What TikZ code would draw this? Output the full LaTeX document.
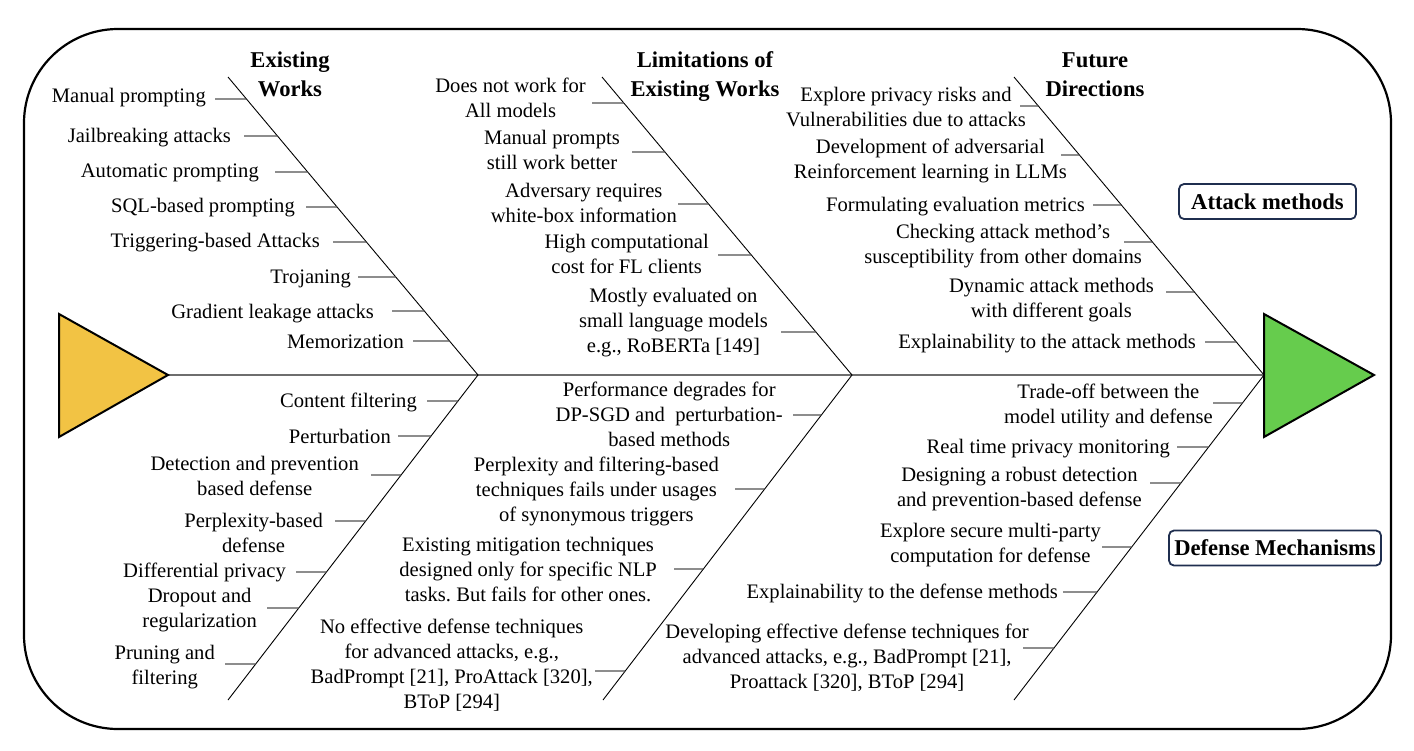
\documentclass[tikz,border=0pt]{standalone}
\usepackage{fontspec}
\setmainfont{Liberation Serif}
\usetikzlibrary{calc}
\frenchspacing
\newcommand{\lblstrut}{\rule[-6pt]{0pt}{22pt}}
\definecolor{fishyellow}{RGB}{242,195,68}
\definecolor{fishgreen}{RGB}{102,204,77}
\definecolor{boxnavy}{RGB}{31,46,79}
\definecolor{ribgray}{RGB}{80,80,80}
\definecolor{spinegray}{RGB}{110,110,110}

\begin{document}
\begin{tikzpicture}[x=1pt,y=-1pt,
  outline/.style={line width=2.2pt, rounded corners=94pt},
  spine/.style={draw=spinegray, line width=1.5pt},
  bone/.style={draw=black, line width=0.9pt},
  rib/.style={draw=ribgray, line width=1.3pt},
  head/.style={font=\fontsize{22.6}{29}\selectfont\bfseries, align=center, inner sep=0pt,
    execute at begin node=\lblstrut, execute at end node=\lblstrut},
  item/.style={font=\fontsize{20.6}{25}\selectfont, align=center, anchor=east, inner sep=0pt,
    execute at begin node=\lblstrut, execute at end node=\lblstrut},
  tag/.style={draw=boxnavy, line width=1.8pt, rounded corners=5pt,
    font=\fontsize{22.6}{27}\selectfont\bfseries, inner sep=0pt, minimum height=35pt},
  fin/.style={draw=black, line width=2pt, line join=miter}
]
\useasboundingbox (0,0) rectangle (1414,750);

% outer frame
\draw[outline] (24,29) rectangle (1391,729);

% bone end points and junctions on the spine
\coordinate (A1t) at (228,77);  \coordinate (J1) at (478,375);  \coordinate (A1b) at (228,700);
\coordinate (A2t) at (602,77);  \coordinate (J2) at (852,375);  \coordinate (A2b) at (603,700);
\coordinate (A3t) at (1014,77); \coordinate (J3) at (1264,375); \coordinate (A3b) at (1014,700);
\coordinate (Yt) at (168,375);

% spine and bones
\draw[spine] (Yt) -- (J1) -- (J2) -- (J3);
\draw[bone] (A1t) -- (J1) -- (A1b);
\draw[bone] (A2t) -- (J2) -- (A2b);
\draw[bone] (A3t) -- (J3) -- (A3b);

% ribs on the upper bones
\foreach \n/\sx/\sy in {e1/215/99, e2/244/136, e3/275/172, e4/306/207, e5/333/242, e6/358/277, e7/392/311, e8/413/341}{
  \coordinate (\n) at (\sx,\sy);
  \draw[rib] (\n) -- ($(A1t)!{(\sy-77)/298}!(J1)$);
}
\foreach \n/\sx/\sy in {l1/592/103, l2/632/152, l3/678/204, l4/718/255, l5/781/332}{
  \coordinate (\n) at (\sx,\sy);
  \draw[rib] (\n) -- ($(A2t)!{(\sy-77)/298}!(J2)$);
}
\foreach \n/\sx/\sy in {f1/1020/106, f2/1061/155, f3/1093/205, f4/1124/242, f5/1166/292, f6/1205/342}{
  \coordinate (\n) at (\sx,\sy);
  \draw[rib] (\n) -- ($(A3t)!{(\sy-77)/298}!(J3)$);
}
% ribs on the lower bones
\foreach \n/\sx/\sy in {d1/427/401, d2/398/436, d3/371/475, d4/335/521, d5/296/572, d6/267/608, d7/225/664}{
  \coordinate (\n) at (\sx,\sy);
  \draw[rib] (\n) -- ($(J1)!{(\sy-375)/325}!(A1b)$);
}
\foreach \n/\sx/\sy in {m1/793/415, m2/735/489, m3/674/569, m4/595/671}{
  \coordinate (\n) at (\sx,\sy);
  \draw[rib] (\n) -- ($(J2)!{(\sy-375)/325}!(A2b)$);
}
\foreach \n/\sx/\sy in {r1/1213/403, r2/1177/447, r3/1150/483, r4/1102/547, r5/1063/592, r6/1023/648}{
  \coordinate (\n) at (\sx,\sy);
  \draw[rib] (\n) -- ($(J3)!{(\sy-375)/325}!(A3b)$);
}

% head and tail of the fish
\draw[fin, fill=fishyellow] (59,314) -- (Yt) -- (59,437) -- cycle;
\draw[fin, fill=fishgreen] (J3 |- 0,314) -- (1374,375) -- (J3 |- 0,437) -- cycle;

% column headings
\node[head] (h1) at (290,77.5) {Existing\\Works};
\node[head] (h2) at (705,77.5) {Limitations of\\Existing Works};
\node[head] (h3) at (1095,77.5) {Future\\Directions};

% existing works: attacks
\node[item] (te1) at (206,97)  {Manual prompting};
\node[item] (te2) at (231,137) {Jailbreaking attacks};
\node[item] (te3) at (259,172) {Automatic prompting};
\node[item] (te4) at (295,207) {SQL-based prompting};
\node[item] (te5) at (320,242) {Triggering-based Attacks};
\node[item] (te6) at (351,278) {Trojaning};
\node[item] (te7) at (374,313) {Gradient leakage attacks};
\node[item] (te8) at (404,343) {Memorization};

% limitations: attacks
\node[item] (tl1) at (586,100.5) {Does not work for\\All models};
\node[item] (tl2) at (620,152.5) {Manual prompts\\still work better};
\node[item] (tl3) at (677,206)   {Adversary requires\\white-box information};
\node[item] (tl4) at (709,257)   {High computational\\cost for FL clients};
\node[item] (tl5) at (768,323)   {Mostly evaluated on\\small language models\\e.g., RoBERTa [149]};

% future directions: attacks
\node[item] (tf1) at (1026,109.5) {Explore privacy risks and\\Vulnerabilities due to attacks};
\node[item] (tf2) at (1067,161.5) {Development of adversarial\\Reinforcement learning in LLMs};
\node[item] (tf3) at (1085,206)   {Formulating evaluation metrics};
\node[item] (tf4) at (1142,246.5) {Checking attack method’s\\susceptibility from other domains};
\node[item] (tf5) at (1154,300.5) {Dynamic attack methods\\with different goals};
\node[item] (tf6) at (1196,343)   {Explainability to the attack methods};

% existing works: defenses
\node[item] (td1) at (417,402)   {Content filtering};
\node[item] (td2) at (391,438)   {Perturbation};
\node[item] (td3) at (359,478.5) {Detection and prevention\\based defense};
\node[item] (td4) at (323,535.5) {Perplexity-based\\defense};
\node[item] (td5) at (286,572)   {Differential privacy};
\node[item] (td6) at (257,610.5) {Dropout and\\regularization};
\node[item] (td7) at (215,667.5) {Pruning and\\filtering};

% limitations: defenses
\node[item] (tm1) at (783,417) {Performance degrades for\\DP-SGD and~ perturbation-\\based methods};
\node[item] (tm2) at (719,492) {Perplexity and filtering-based\\techniques fails under usages\\of synonymous triggers};
\node[item] (tm3) at (657,572) {Existing mitigation techniques\\designed only for specific NLP\\tasks. But fails for other ones.};
\node[item] (tm4) at (593,667) {No effective defense techniques\\for advanced attacks, e.g.,\\BadPrompt [21], ProAttack [320],\\BToP [294]};

% future directions: defenses
\node[item] (tr1) at (1213,406.5) {Trade-off between the\\model utility and defense};
\node[item] (tr2) at (1170,448)   {Real time privacy monitoring};
\node[item] (tr3) at (1142,490)   {Designing a robust detection\\and prevention-based defense};
\node[item] (tr4) at (1101,545.5) {Explore secure multi-party\\computation for defense};
\node[item] (tr5) at (1058,593)   {Explainability to the defense methods};
\node[item] (tr6) at (1029,659.7) {Developing effective defense techniques for\\advanced attacks, e.g., BadPrompt [21],\\Proattack [320], BToP [294]};

% category tags
\node[tag, minimum width=177pt] (attack) at (1267.5,201.5) {Attack methods};
\node[tag, minimum width=212pt] (defense) at (1275,548) {Defense Mechanisms};
\end{tikzpicture}
\end{document}
